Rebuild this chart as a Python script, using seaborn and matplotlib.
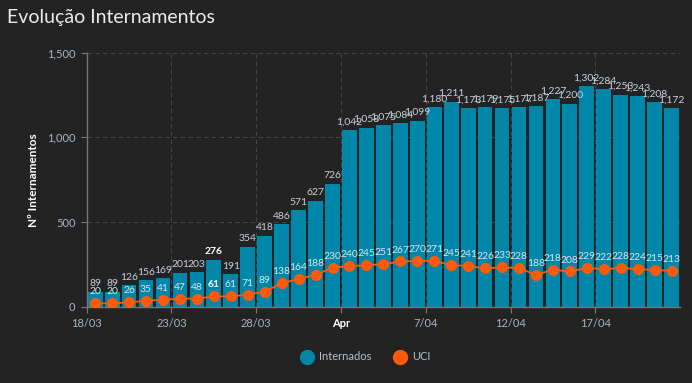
import pandas as pd
import seaborn as sns
import matplotlib.pyplot as plt
import numpy as np
from matplotlib.lines import Line2D

# dados diários (18/03 -> 21/04)
dias = pd.date_range("2020-03-18", periods=35).strftime("%d/%m")
internados = [89, 89, 126, 156, 169, 201, 203, 276, 191, 354,
              418, 486, 571, 627, 726, 1042, 1058, 1075, 1084, 1099,
              1180, 1211, 1173, 1179, 1175, 1177, 1187, 1227, 1200, 1302,
              1284, 1253, 1243, 1208, 1172]
uci = [20, 20, 26, 35, 41, 47, 48, 61, 61, 71,
       89, 138, 164, 188, 230, 240, 245, 251, 267, 270,
       271, 245, 241, 226, 233, 228, 188, 218, 208, 229,
       222, 228, 224, 215, 213]
tick_dias = ["18/03", "23/03", "28/03", "02/04", "07/04", "12/04", "17/04"]
tick_labels = ["18/03", "23/03", "28/03", "Apr", "7/04", "12/04", "17/04"]
destaque = "25/03"

df = pd.DataFrame({"Dia": dias, "Internados": internados, "UCI": uci})

bg = "#232323"
azul = "#0086a8"
laranja = "#ff5a0a"
cinza_txt = "#c9d1dc"

sns.set_theme(style="dark")
plt.rcParams["font.family"] = ["Lato", "DejaVu Sans"]

fig = plt.figure(figsize=(6.92, 3.83), dpi=100, facecolor=bg)
ax = fig.add_axes([0.1253, 0.1992, 0.8574, 0.6632], facecolor=bg)

sns.barplot(data=df, x="Dia", y="Internados", color=azul, width=0.87,
            saturation=1, edgecolor="none", linewidth=0, ax=ax, zorder=2)
sns.pointplot(data=df, x="Dia", y="UCI", color=laranja, markers="o",
              markersize=7, linewidth=1.3, ax=ax, zorder=3)

# rótulos
hi = list(dias).index(destaque)
for i, (a, b) in enumerate(zip(internados, uci)):
    bold = i == hi
    ax.annotate(f"{a:,}", (i, a), xytext=(0, 2.5), textcoords="offset points",
                ha="center", va="bottom", fontsize=7.5,
                color="white" if bold else cinza_txt,
                fontweight="bold" if bold else "normal", zorder=4)
    ax.annotate(f"{b:,}", (i, b), xytext=(0, 5), textcoords="offset points",
                ha="center", va="bottom", fontsize=7.5,
                color="white" if bold else "#dde4ec",
                fontweight="bold" if bold else "normal", zorder=4)

ax.set_xlim(-0.5, len(dias) - 0.5)
ax.set_ylim(0, 1500)
ax.set_yticks([0, 500, 1000, 1500])
ax.set_yticklabels(["0", "500", "1,000", "1,500"])
pos = [list(dias).index(d) - 0.5 for d in tick_dias]
ax.set_xticks(pos)
ax.set_xticklabels(tick_labels)

ax.tick_params(axis="both", colors="#777777", labelsize=8, length=4,
               width=0.8, bottom=True, left=True, pad=4)
for t in ax.get_yticklabels() + ax.get_xticklabels():
    t.set_color("#a9b4c6")
for t in ax.get_xticklabels():
    if t.get_text() == "Apr":
        t.set_color("white")
        t.set_fontweight("bold")

ax.grid(True, color="#454545", linestyle=(0, (4, 3)), linewidth=0.8, zorder=0)
ax.set_axisbelow(True)
for s in ["top", "right"]:
    ax.spines[s].set_visible(False)
for s in ["left", "bottom"]:
    ax.spines[s].set_color("#777777")
    ax.spines[s].set_linewidth(1)

ax.set_xlabel("")
ax.set_ylabel("Nº Internamentos", color="white", fontsize=8.5,
              fontweight="bold", labelpad=6)

fig.text(0.01, 0.955, "Evolução Internamentos", color="#ececec",
         fontsize=14, va="center", ha="left")

handles = [Line2D([], [], marker="o", linestyle="", markersize=10,
                  color=azul, label="Internados"),
           Line2D([], [], marker="o", linestyle="", markersize=10,
                  color=laranja, label="UCI")]
leg = fig.legend(handles=handles, loc="center", bbox_to_anchor=(0.525, 0.068),
                 ncol=2, frameon=False, fontsize=8, handletextpad=0.1,
                 columnspacing=1.6)
for t in leg.get_texts():
    t.set_color("#b8c0cc")

fig.savefig("out.png", dpi=100, facecolor=bg)
